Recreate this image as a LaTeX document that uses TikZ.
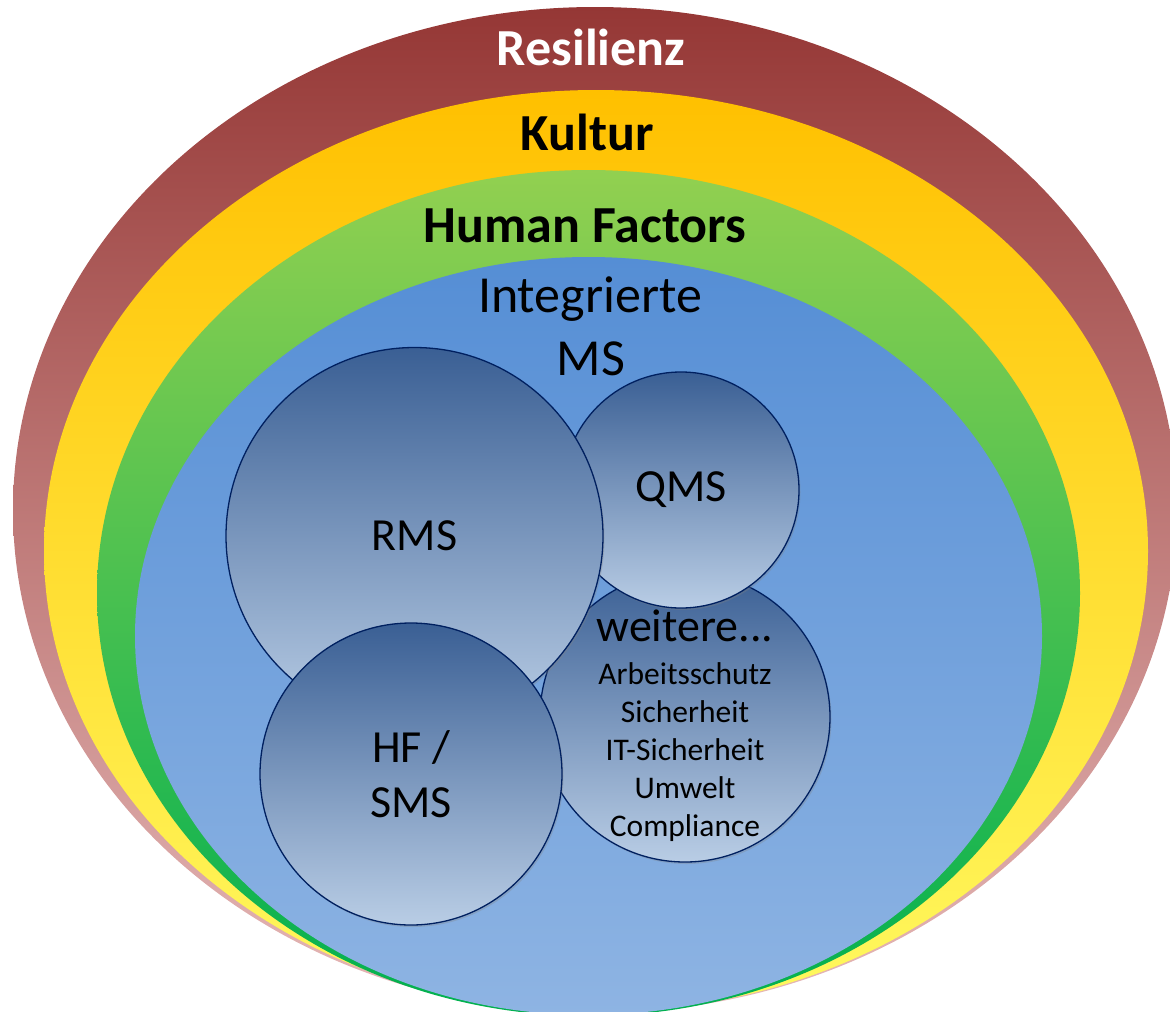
\documentclass[tikz,border=0pt]{standalone}
\usepackage{fontspec}
\setmainfont{Carlito}
\usetikzlibrary{shadows}
\definecolor{resTop}{HTML}{953735}
\definecolor{resBot}{HTML}{E6B9B8}
\definecolor{kulTop}{HTML}{FFC000}
\definecolor{kulBot}{HTML}{FFF95F}
\definecolor{hfTop}{HTML}{92D050}
\definecolor{hfMid}{HTML}{3CBE50}
\definecolor{hfBot}{HTML}{00B050}
\definecolor{imsTop}{HTML}{558ED5}
\definecolor{imsBot}{HTML}{8EB4E3}
\definecolor{cTop}{HTML}{3A5F94}
\definecolor{cBot}{HTML}{B9CDE5}
\definecolor{navy}{HTML}{002060}
\begin{document}
\begin{tikzpicture}[x=1pt,y=-1pt,
  circ/.style={circle, draw=navy, line width=1.3pt, top color=cTop, bottom color=cBot,
    inner sep=0pt, align=center, text=black,
    drop shadow={shadow xshift=1.5pt, shadow yshift=-2pt, opacity=0.3}},
  bigtxt/.style={font=\fontsize{46}{55}\selectfont},
  title/.style={anchor=base, inner sep=0pt, font=\fontsize{52}{60}\selectfont\bfseries},
  plain/.style={anchor=base, inner sep=0pt, font=\fontsize{52}{60}\selectfont}]
\clip (0,0) rectangle (1170,1012);
% layered ellipses
\path[top color=resTop, bottom color=resBot] (595,510) ellipse [x radius=582pt, y radius=503pt];
\path[top color=kulTop, bottom color=kulBot] (596,551) ellipse [x radius=552pt, y radius=461pt];
\path[top color=hfTop, middle color=hfMid, bottom color=hfBot] (588.5,593) ellipse [x radius=491.5pt, y radius=423pt];
\path[top color=imsTop, bottom color=imsBot] (588.5,636) ellipse [x radius=453.5pt, y radius=379pt];
% layer titles
\node[title, text=white] (res) at (591,65) {Resilienz};
\node[title] (kul) at (587,150) {Kultur};
\node[title] (hf) at (585,242) {Human Factors};
\node[plain] (ims1) at (590,312) {Integrierte};
\node[plain] (ims2) at (591,375) {MS};
% circles
\node[circ, minimum size=290pt] (weit) at (685,717) {};
\node[inner sep=0pt, align=center, font=\fontsize{31.5}{38}\selectfont] (weittxt) at (685,726)
  {{\fontsize{46}{46}\selectfont weitere...}\\[5pt]Arbeitsschutz\\Sicherheit\\IT-Sicherheit\\Umwelt\\Compliance};
\node[circ, bigtxt, minimum size=236pt] (qms) at (681,490) {QMS};
\node[circ, bigtxt, minimum size=377pt] (rms) at (414.5,536) {RMS};
\node[circ, bigtxt, minimum size=302pt] (hfsms) at (411,774) {HF /\\SMS};
\end{tikzpicture}
\end{document}
